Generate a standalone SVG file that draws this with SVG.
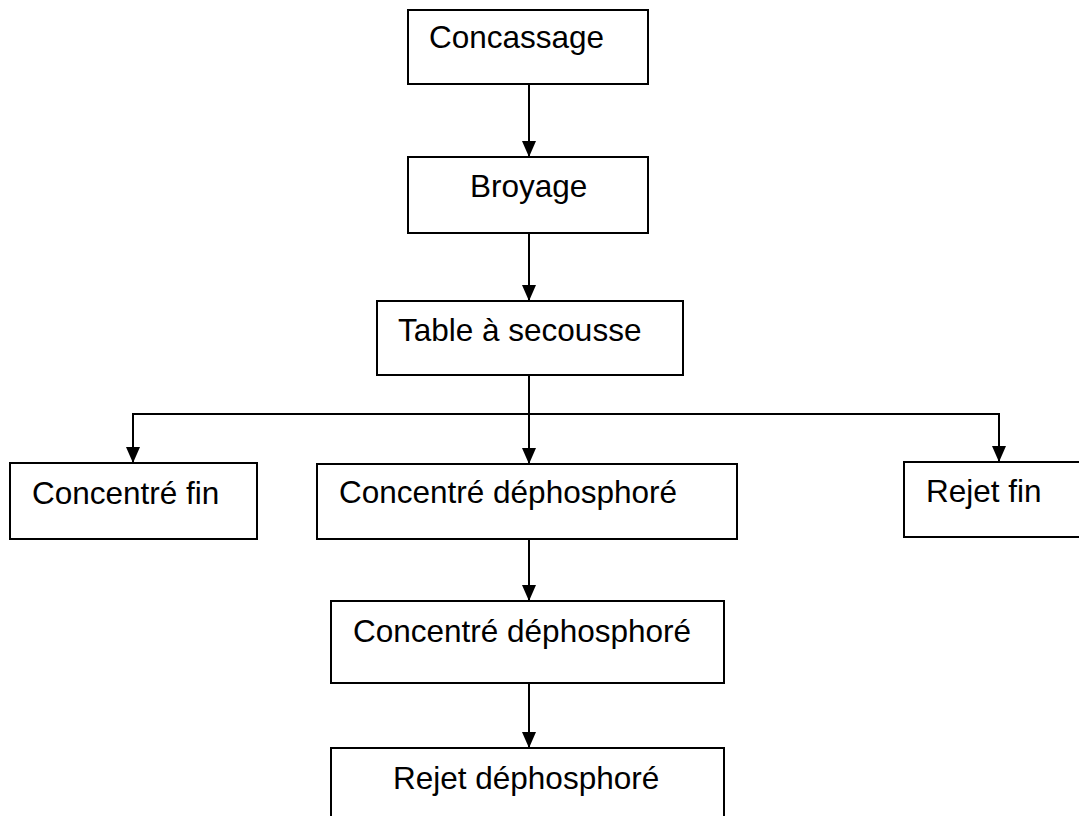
<svg xmlns="http://www.w3.org/2000/svg" width="1079" height="816" viewBox="0 0 1079 816">
<style>
.box{fill:#fff;stroke:#000;stroke-width:2}
.lbl{font-family:"Liberation Sans",Arial,sans-serif;font-size:31.5px;fill:#000}
.ln{fill:none;stroke:#000;stroke-width:2}
</style>
<defs>
<marker id="ah" markerUnits="userSpaceOnUse" markerWidth="16" markerHeight="14" refX="16" refY="7" orient="auto">
<path d="M0,0 L16,7 L0,14 Z" fill="#000"/>
</marker>
</defs>
<rect width="1079" height="816" fill="#fff"/>
<g id="connectors">
<line class="ln" x1="529" y1="84" x2="529" y2="157" marker-end="url(#ah)"/>
<line class="ln" x1="529" y1="233" x2="529" y2="301" marker-end="url(#ah)"/>
<line class="ln" x1="529" y1="375" x2="529" y2="464" marker-end="url(#ah)"/>
<line class="ln" x1="133" y1="414" x2="999" y2="414"/>
<line class="ln" x1="133" y1="413" x2="133" y2="463" marker-end="url(#ah)"/>
<line class="ln" x1="999" y1="413" x2="999" y2="462" marker-end="url(#ah)"/>
<line class="ln" x1="529" y1="539" x2="529" y2="601" marker-end="url(#ah)"/>
<line class="ln" x1="529" y1="683" x2="529" y2="748" marker-end="url(#ah)"/>
</g>
<g id="concassage">
<rect class="box" x="408" y="10" width="240" height="74"/>
<text class="lbl" x="429" y="48">Concassage</text>
</g>
<g id="broyage">
<rect class="box" x="408" y="157" width="240" height="76"/>
<text class="lbl" x="470" y="197">Broyage</text>
</g>
<g id="table">
<rect class="box" x="377" y="301" width="306" height="74"/>
<text class="lbl" x="398" y="341">Table à secousse</text>
</g>
<g id="concentre-fin">
<rect class="box" x="10" y="463" width="247" height="76"/>
<text class="lbl" x="32" y="504">Concentré fin</text>
</g>
<g id="concentre-dephosphore-1">
<rect class="box" x="317" y="464" width="420" height="75"/>
<text class="lbl" x="339" y="503">Concentré déphosphoré</text>
</g>
<g id="rejet-fin">
<rect class="box" x="904" y="462" width="190" height="75"/>
<text class="lbl" x="926" y="502">Rejet fin</text>
</g>
<g id="concentre-dephosphore-2">
<rect class="box" x="331" y="601" width="393" height="82"/>
<text class="lbl" x="353" y="642">Concentré déphosphoré</text>
</g>
<g id="rejet-dephosphore">
<rect class="box" x="331" y="748" width="393" height="90"/>
<text class="lbl" x="393" y="789">Rejet déphosphoré</text>
</g>
</svg>
